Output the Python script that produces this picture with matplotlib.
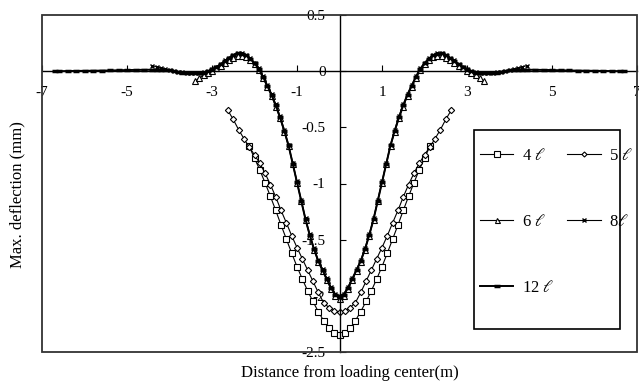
import matplotlib.pyplot as plt
from matplotlib.patches import Rectangle

plt.rcParams['font.family'] = ['Liberation Serif', 'DejaVu Serif']
plt.rcParams['mathtext.fontset'] = 'stix'
plt.rcParams['axes.unicode_minus'] = False

# half profiles (x >= 0); the deflection basin is symmetric
x_4 = [0.0, 0.125, 0.25, 0.375, 0.5, 0.625, 0.75, 0.875, 1.0, 1.125, 1.25, 1.375,
       1.5, 1.625, 1.75, 1.875, 2.0, 2.125]
y_4 = [-2.35, -2.335, -2.29, -2.22, -2.14, -2.05, -1.955, -1.85, -1.74, -1.62, -1.495, -1.37,
       -1.24, -1.115, -0.995, -0.88, -0.775, -0.67]

x_5 = [0.0, 0.125, 0.25, 0.375, 0.5, 0.625, 0.75, 0.875, 1.0, 1.125, 1.25, 1.375,
       1.5, 1.625, 1.75, 1.875, 2.0, 2.125, 2.25, 2.375, 2.5, 2.625]
y_5 = [-2.145, -2.135, -2.105, -2.06, -1.97, -1.87, -1.77, -1.67, -1.57, -1.465, -1.35, -1.24,
       -1.12, -1.01, -0.91, -0.82, -0.745, -0.675, -0.6, -0.52, -0.43, -0.35]

x_6 = [0.0, 0.1, 0.2, 0.3, 0.4, 0.5, 0.6, 0.7, 0.8, 0.9,
       1.0, 1.1, 1.2, 1.3, 1.4, 1.5, 1.6, 1.7, 1.8, 1.9,
       2.0, 2.1, 2.2, 2.3, 2.4, 2.5, 2.6, 2.7, 2.8, 2.9,
       3.0, 3.1, 3.2, 3.3, 3.4]
y_6 = [-2.03, -2.0, -1.94, -1.86, -1.78, -1.695, -1.59, -1.465, -1.325, -1.16,
       -0.995, -0.83, -0.67, -0.54, -0.42, -0.315, -0.22, -0.14, -0.06, 0.01,
       0.06, 0.1, 0.125, 0.135, 0.135, 0.12, 0.1, 0.075, 0.05, 0.025,
       0.005, -0.015, -0.035, -0.06, -0.09]

x_8 = [0.0, 0.1, 0.2, 0.3, 0.4, 0.5, 0.6, 0.7, 0.8, 0.9,
       1.0, 1.1, 1.2, 1.3, 1.4, 1.5, 1.6, 1.7, 1.8, 1.9,
       2.0, 2.1, 2.2, 2.3, 2.4, 2.5, 2.6, 2.7, 2.8, 2.9,
       3.0, 3.1, 3.2, 3.3, 3.4, 3.5, 3.6, 3.7, 3.8, 3.9,
       4.0, 4.1, 4.2, 4.3, 4.4]
y_8 = [-2.0, -1.98, -1.92, -1.845, -1.765, -1.68, -1.575, -1.45, -1.31, -1.145,
       -0.98, -0.815, -0.655, -0.52, -0.4, -0.295, -0.2, -0.12, -0.045, 0.025,
       0.075, 0.115, 0.145, 0.16, 0.16, 0.145, 0.12, 0.095, 0.065, 0.04,
       0.018, 0.002, -0.01, -0.016, -0.018, -0.018, -0.015, -0.01, -0.004, 0.003,
       0.01, 0.018, 0.028, 0.038, 0.048]

x_12 = [0.0, 0.1, 0.2, 0.3, 0.4, 0.5, 0.6, 0.7, 0.8, 0.9,
        1.0, 1.1, 1.2, 1.3, 1.4, 1.5, 1.6, 1.7, 1.8, 1.9,
        2.0, 2.1, 2.2, 2.3, 2.4, 2.5, 2.6, 2.7, 2.8, 2.9,
        3.0, 3.1, 3.2, 3.3, 3.4, 3.5, 3.6, 3.7, 3.8, 3.9,
        4.0, 4.1, 4.2, 4.3, 4.4,
        4.6, 4.8, 5.0, 5.2, 5.4, 5.6, 5.8, 6.0, 6.2, 6.4, 6.6, 6.7]
y_12 = [-2.01, -1.99, -1.93, -1.85, -1.77, -1.69, -1.585, -1.46, -1.32, -1.155,
        -0.99, -0.825, -0.66, -0.53, -0.41, -0.305, -0.21, -0.13, -0.05, 0.02,
        0.07, 0.11, 0.14, 0.155, 0.16, 0.145, 0.12, 0.09, 0.06, 0.035,
        0.015, 0.0, -0.012, -0.018, -0.02, -0.02, -0.017, -0.012, -0.006, 0.0,
        0.006, 0.01, 0.012, 0.013, 0.013,
        0.012, 0.011, 0.01, 0.008, 0.006, 0.005, 0.004, 0.003, 0.002, 0.001, 0.0, 0.0]

x_ticks = [-7, -5, -3, -1, 1, 3, 5, 7]
y_ticks = [0.5, 0, -0.5, -1, -1.5, -2, -2.5]
y_tick_labels = ['0.5', '0', '-0.5', '-1', '-1.5', '-2', '-2.5']


def mirror(x, y):
    xs = [-v for v in reversed(x[1:])] + list(x)
    ys = list(reversed(y[1:])) + list(y)
    return xs, ys


fig = plt.figure(figsize=(6.39, 3.82), dpi=100)
ax = fig.add_axes([42 / 639, 30 / 382, 595 / 639, 337 / 382])

h4, = ax.plot(*mirror(x_4, y_4), color='black', lw=0.8, marker='s', ms=5,
              mfc='white', mec='black', mew=0.8, label=r'4 $\ell$')
h5, = ax.plot(*mirror(x_5, y_5), color='black', lw=0.8, marker='D', ms=3.2,
              mfc='white', mec='black', mew=0.8, label=r'5 $\ell$')
h6, = ax.plot(*mirror(x_6, y_6), color='black', lw=0.8, marker='^', ms=4.5,
              mfc='white', mec='black', mew=0.8, label=r'6 $\ell$')
h8, = ax.plot(*mirror(x_8, y_8), color='black', lw=0.8, marker='x', ms=3.5,
              mec='black', mew=1.0, label=r'8$\ell$')
h12, = ax.plot(*mirror(x_12, y_12), color='black', lw=1.4, marker='_', ms=5,
               mec='black', mew=2.5, label=r'12 $\ell$')

ax.set_xlim(-7, 7)
ax.set_ylim(-2.5, 0.5)

for s in ['top', 'right']:
    ax.spines[s].set_visible(False)
ax.spines['bottom'].set_position(('data', 0))
ax.spines['left'].set_position(('data', 0))
ax.spines['bottom'].set_linewidth(1.0)
ax.spines['left'].set_linewidth(1.0)

ax.add_patch(Rectangle((0, 0), 1, 1, transform=ax.transAxes, fill=False,
                       edgecolor='#333333', lw=1.3, clip_on=False, zorder=5))

ax.set_xticks(x_ticks)
ax.set_xticklabels([str(v) for v in x_ticks])
ax.set_yticks(y_ticks)
ax.set_yticklabels(y_tick_labels)
ax.tick_params(axis='x', direction='in', length=4, pad=11, labelsize=11)
ax.tick_params(axis='y', direction='in', length=4, pad=10, labelsize=11)

fig.text(350 / 639, 1 - 373 / 382, 'Distance from loading center(m)',
         ha='center', va='center', fontsize=12)
fig.text(17 / 639, 1 - 195 / 382, 'Max. deflection (mm)', rotation=90,
         ha='center', va='center', fontsize=12)

# legend box drawn separately so the generous row spacing matches
ax.add_patch(Rectangle(((474 - 42) / 595, (352 - 329) / 337), 146 / 595, 199 / 337,
                       transform=ax.transAxes, fill=False, edgecolor='black',
                       lw=1.2, zorder=6))
ax.legend(handles=[h4, h6, h12, h5, h8], ncol=2, frameon=False, fontsize=12,
          loc='upper left', bbox_to_anchor=((480 - 42) / 595, (352 - 148) / 337),
          borderaxespad=0, borderpad=0, labelspacing=3.0, handlelength=2.0,
          handletextpad=0.5, columnspacing=0.8, markerscale=0.8)

fig.savefig('out.png', dpi=100)
